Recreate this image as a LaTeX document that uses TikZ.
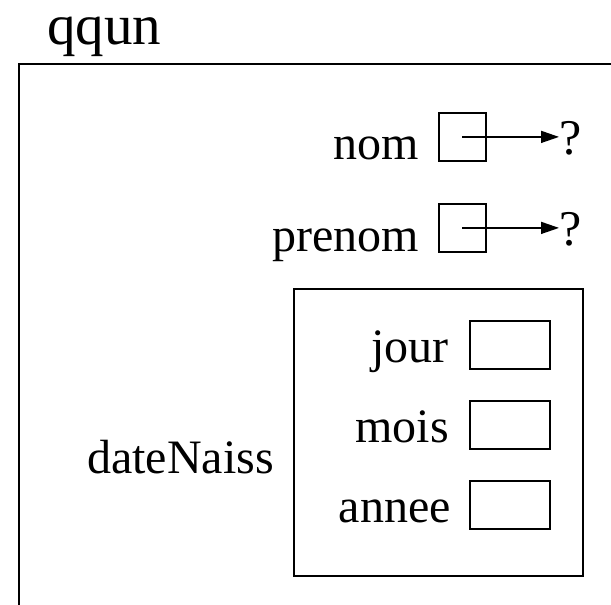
\documentclass[tikz,border=0pt]{standalone}
\usepackage{fontspec}
\setmainfont{Liberation Serif}
\usetikzlibrary{arrows.meta}
\begin{document}
\begin{tikzpicture}[x=1pt,y=-1pt,
  lbl/.style={anchor=base east,inner sep=0pt,font=\fontsize{48}{56}\selectfont},
  cell/.style={draw,line width=1.8pt,minimum width=#1,minimum height=48pt,inner sep=0pt,anchor=north west},
  qm/.style={anchor=west,inner sep=0pt,font=\fontsize{50}{56}\selectfont},
  ptr/.style={line width=1.5pt,-{Triangle[length=18pt,width=12pt]}}]
\useasboundingbox (0,0) rectangle (611,605);
\clip (0,0) rectangle (611,605);
\node[anchor=base west,inner sep=0pt,font=\fontsize{57}{60}\selectfont] (title) at (47,44) {qqun};
\draw[line width=2.6pt] (700,64) -- (19,64) -- (19,700);
% nom
\node[lbl] (nomL) at (419,159) {nom};
\node[cell=47pt] (nomB) at (438,112) {};
\node[qm] (nomQ) at (559,138) {?};
\draw[ptr] (nomB.center) -- (nomB.center -| nomQ.west);
% prenom
\node[lbl] (preL) at (419,251) {prenom};
\node[cell=47pt] (preB) at (438,203) {};
\node[qm] (preQ) at (559,229) {?};
\draw[ptr] (preB.center) -- (preB.center -| preQ.west);
% dateNaiss
\node[draw,line width=2pt,minimum width=289pt,minimum height=287pt,anchor=north west,inner sep=0pt] (dn) at (293,288) {};
\node[anchor=base west,inner sep=0pt,font=\fontsize{48}{56}\selectfont] (dnL) at (87,473) {dateNaiss};
\node[lbl] (jourL) at (449,362) {jour};
\node[cell=80pt] (jourB) at (469,320) {};
\node[lbl] (moisL) at (449,442) {mois};
\node[cell=80pt] (moisB) at (469,400) {};
\node[lbl] (anL) at (451,522) {annee};
\node[cell=80pt] (anB) at (469,480) {};
\end{tikzpicture}
\end{document}
